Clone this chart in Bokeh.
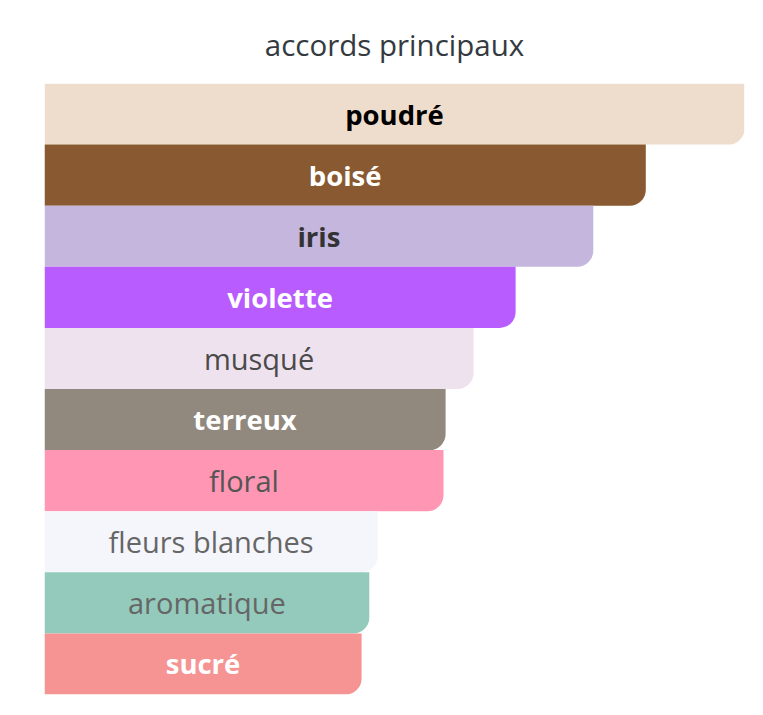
from bokeh.plotting import figure
from bokeh.models import ColumnDataSource, FactorRange, Range1d
from bokeh.core.properties import value
from bokeh.embed import file_html
from bokeh.resources import INLINE

title_text = "accords principaux"
accords = ["poudré", "boisé", "iris", "violette", "musqué", "terreux", "floral",
           "fleurs blanches", "aromatique", "sucré"]
values = [100, 85.9, 78.4, 67.3, 61.3, 57.3, 57.0, 47.6, 46.4, 45.3]
bar_colors = ["#EEDDCC", "#895A31", "#C4B6DD", "#B85CFF", "#EEE2EF", "#91897E",
              "#FF96B4", "#F5F6FB", "#94CABC", "#F69494"]
text_colors = ["#000000", "#FFFFFF", "#333333", "#FFFFFF", "#4A4A4A", "#FFFFFF",
               "#555555", "#666666", "#666666", "#FFFFFF"]
text_styles = ["bold", "bold", "bold", "bold", "normal", "bold",
               "normal", "normal", "normal", "bold"]
text_sizes = ["27.5px" if s == "bold" else "29px" for s in text_styles]

source = ColumnDataSource(dict(
    accord=accords, val=values, mid=[v / 2 for v in values],
    color=bar_colors, tcolor=text_colors, tstyle=text_styles, tsize=text_sizes,
))

p = figure(width=755, height=707, output_backend="svg", toolbar_location=None,
           y_range=FactorRange(factors=list(reversed(accords)), range_padding=0),
           x_range=Range1d(0, max(values)),
           title=title_text,
           min_border_left=44, min_border_right=11, min_border_bottom=13, min_border_top=83)
p.title.align = "center"
p.title.text_font = "Open Sans"
p.title.text_font_size = "29.5px"
p.title.text_font_style = "normal"
p.title.text_color = "#343A40"
p.title.standoff = 38
p.axis.visible = False
p.grid.visible = False
p.outline_line_color = None

p.hbar(y="accord", right="val", left=0, height=1.0, source=source,
       fill_color="color", line_color=None, border_radius=(0, 0, 16, 0))
p.text(x="mid", y="accord", text="accord", source=source,
       text_color="tcolor", text_font_style="tstyle",
       text_font=value("Open Sans"), text_font_size="tsize",
       text_align="center", text_baseline="middle")

open("out.html", "w").write(file_html(p, INLINE))
